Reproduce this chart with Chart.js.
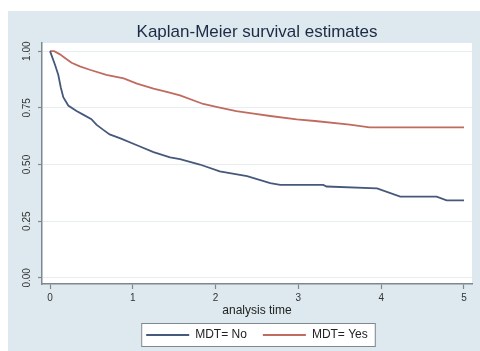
<!DOCTYPE html>
<html lang="en">
<head>
    <meta charset="UTF-8">
    <title>Kaplan-Meier survival estimates</title>
    <script src="https://cdn.jsdelivr.net/npm/chart.js"></script>
    <style>
        body { margin: 0; background: #ffffff; }
        #box { width: 480px; height: 351px; }
    </style>
</head>
<body>
    <div id="box"><canvas id="kmCanvas"></canvas></div>
<script>
    // analysis time / survival
    const tempoNao = [0, 0.06, 0.10, 0.13, 0.16, 0.22, 0.32, 0.40, 0.50, 0.56, 0.64, 0.72, 0.85, 1.05, 1.25, 1.45, 1.57, 1.81, 2.05, 2.38, 2.66, 2.78, 3.30, 3.34, 3.95, 4.23, 4.67, 4.79, 5.00];
    const survNao = [1.00, 0.94, 0.895, 0.84, 0.797, 0.76, 0.736, 0.72, 0.70, 0.676, 0.654, 0.633, 0.615, 0.585, 0.555, 0.532, 0.524, 0.50, 0.47, 0.449, 0.418, 0.41, 0.41, 0.403, 0.395, 0.358, 0.358, 0.342, 0.342];

    const tempoSim = [0, 0.05, 0.12, 0.18, 0.26, 0.36, 0.48, 0.68, 0.89, 1.05, 1.25, 1.41, 1.57, 1.85, 2.05, 2.25, 2.46, 2.66, 2.98, 3.20, 3.62, 3.86, 5.00];
    const survSim = [1.00, 1.00, 0.986, 0.97, 0.949, 0.933, 0.918, 0.895, 0.88, 0.857, 0.835, 0.82, 0.805, 0.767, 0.751, 0.736, 0.724, 0.714, 0.699, 0.692, 0.676, 0.664, 0.664];

    const xTicks = [0, 1, 2, 3, 4, 5];
    const yTicks = [0, 0.25, 0.5, 0.75, 1];
    const yTickLabels = ['0.00', '0.25', '0.50', '0.75', '1.00'];
    const nomes = ['MDT= No', 'MDT= Yes'];

    const cinza = '#7d898f';
    const fundo = '#dde9ee';
    const fonte = 'Liberation Sans, Arial, sans-serif';

    function pontos(t, s) {
        let out = [];
        for (let i = 0; i < t.length; i++) out.push({ x: t[i], y: s[i] });
        return out;
    }

    // background, white plot region and the framed legend
    const fundoStata = {
        id: 'fundoStata',
        beforeDraw(chart) {
            const ctx = chart.ctx;
            const a = chart.chartArea;
            ctx.save();
            ctx.fillStyle = '#ffffff';
            ctx.fillRect(0, 0, chart.width, chart.height);
            ctx.fillStyle = fundo;
            ctx.fillRect(8, 11, chart.width - 8, chart.height - 11);
            ctx.fillStyle = '#ffffff';
            ctx.fillRect(a.left, a.top, a.right - a.left, a.bottom - a.top);

            const lg = chart.legend;
            const hb = lg.legendHitBoxes;
            if (hb && hb.length) {
                const ult = hb[hb.length - 1];
                const esq = hb[0].left - 5;
                const dir = ult.left + ult.width + 7;
                const meio = hb[0].top + hb[0].height / 2;
                ctx.fillStyle = '#ffffff';
                ctx.fillRect(esq, meio - 11.5, dir - esq, 23);
                ctx.strokeStyle = cinza;
                ctx.lineWidth = 1;
                ctx.strokeRect(esq + 0.5, meio - 11.5, dir - esq, 23);
            }
            ctx.restore();
        }
    };

    const config = {
        type: 'scatter',
        data: {
            datasets: [{
                label: nomes[0],
                data: pontos(tempoNao, survNao),
                showLine: true,
                borderColor: '#46597a',
                borderWidth: 1.8,
                pointRadius: 0,
                tension: 0
            },
            {
                label: nomes[1],
                data: pontos(tempoSim, survSim),
                showLine: true,
                borderColor: '#c06b60',
                borderWidth: 1.8,
                pointRadius: 0,
                tension: 0
            }]
        },
        options: {
            responsive: true,
            maintainAspectRatio: false,
            animation: false,
            layout: { padding: { top: 14, left: 8, right: 8, bottom: 0 } },
            plugins: {
                title: {
                    display: true,
                    text: 'Kaplan-Meier survival estimates',
                    fullSize: false,
                    color: '#1c2a44',
                    font: { family: fonte, size: 17, weight: 'normal' },
                    padding: { top: 8, bottom: 0.6 }
                },
                legend: {
                    position: 'bottom',
                    fullSize: false,
                    labels: {
                        usePointStyle: true,
                        pointStyle: 'line',
                        pointStyleWidth: 43,
                        padding: 16,
                        color: '#222222',
                        font: { family: fonte, size: 12 }
                    }
                },
                tooltip: { enabled: false }
            },
            scales: {
                x: {
                    type: 'linear',
                    min: -0.097,
                    max: 5.097,
                    afterBuildTicks: (s) => { s.ticks = xTicks.map(v => ({ value: v })); },
                    afterFit: (s) => { s.height = 29; },
                    border: { color: cinza, width: 1.5 },
                    grid: { drawOnChartArea: false, tickColor: cinza, tickLength: 5, tickWidth: 1.2 },
                    ticks: {
                        padding: 3,
                        color: '#333333',
                        font: { family: fonte, size: 10 }
                    },
                    title: {
                        display: true,
                        text: 'analysis time',
                        color: '#222222',
                        padding: { top: 0, bottom: -5 },
                        font: { family: fonte, size: 12 }
                    }
                },
                y: {
                    type: 'linear',
                    min: -0.027,
                    max: 1.036,
                    afterBuildTicks: (s) => { s.ticks = yTicks.map(v => ({ value: v })); },
                    afterFit: (s) => { s.width = 34; },
                    border: { color: cinza, width: 1.5 },
                    grid: { color: '#e7eef1', tickColor: cinza, tickLength: 4, tickWidth: 1.2 },
                    ticks: {
                        minRotation: 90,
                        maxRotation: 90,
                        crossAlign: 'center',
                        padding: 1,
                        color: '#333333',
                        font: { family: fonte, size: 10 },
                        callback: (v) => yTickLabels[yTicks.indexOf(v)]
                    }
                }
            }
        },
        plugins: [fundoStata]
    };

    let kmChart = new Chart(document.getElementById('kmCanvas'), config);
</script>
</body>
</html>
